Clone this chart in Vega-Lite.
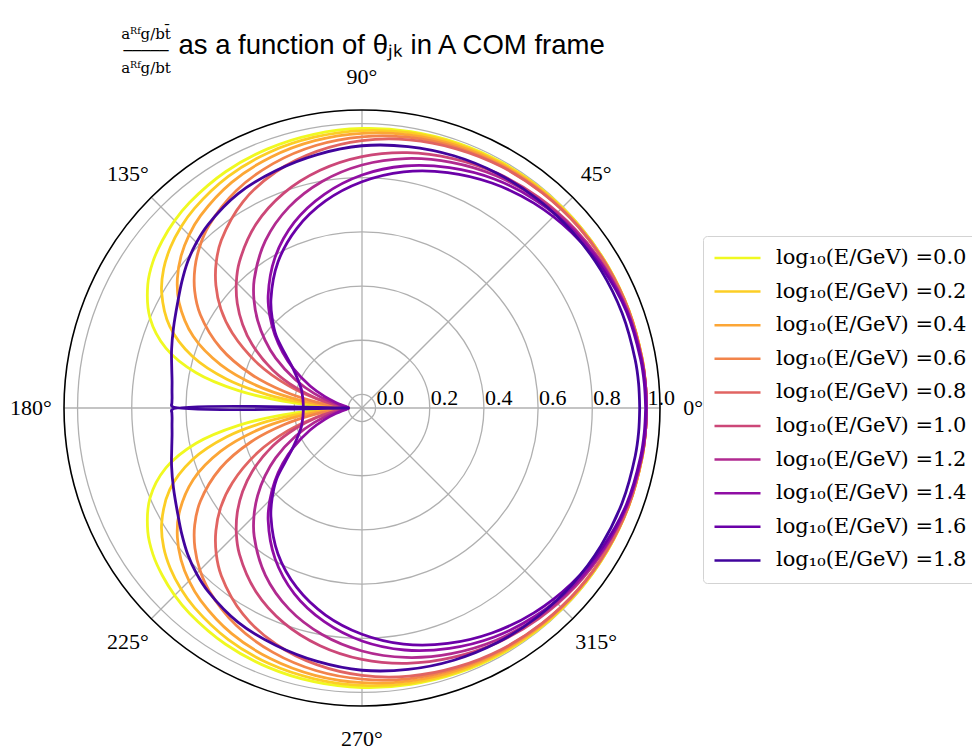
{
 "$schema": "https://vega.github.io/schema/vega-lite/v6.json",
 "width": 596, "height": 596,
 "autosize": {"type": "none"},
 "padding": {"left": 64, "top": 110, "right": 312, "bottom": 45},
 "background": "white",
 "config": {"view": {"stroke": null}, "axis": {"grid": false, "labels": false, "ticks": false, "domain": false}},
 "datasets": {
  "curves": [
   {"t":0,"E00":1,"E02":1,"E04":1,"E06":1,"E08":1,"E10":1,"E12":1,"E14":1,"E16":0.997,"E18":0.975},
   {"t":5,"E00":1,"E02":1,"E04":1,"E06":1,"E08":1,"E10":1,"E12":1,"E14":0.999,"E16":0.996,"E18":0.975},
   {"t":10,"E00":1,"E02":1,"E04":1,"E06":0.999,"E08":0.999,"E10":0.998,"E12":0.998,"E14":0.997,"E16":0.994,"E18":0.974},
   {"t":20,"E00":0.999,"E02":0.999,"E04":0.998,"E06":0.998,"E08":0.998,"E10":0.993,"E12":0.993,"E14":0.992,"E16":0.989,"E18":0.972},
   {"t":30,"E00":0.998,"E02":0.997,"E04":0.996,"E06":0.995,"E08":0.995,"E10":0.986,"E12":0.985,"E14":0.982,"E16":0.976,"E18":0.968},
   {"t":40,"E00":0.997,"E02":0.995,"E04":0.994,"E06":0.992,"E08":0.992,"E10":0.977,"E12":0.974,"E14":0.969,"E16":0.959,"E18":0.963},
   {"t":50,"E00":0.995,"E02":0.993,"E04":0.990,"E06":0.987,"E08":0.986,"E10":0.965,"E12":0.959,"E14":0.950,"E16":0.937,"E18":0.957},
   {"t":60,"E00":0.993,"E02":0.990,"E04":0.986,"E06":0.981,"E08":0.979,"E10":0.950,"E12":0.940,"E14":0.926,"E16":0.909,"E18":0.950},
   {"t":70,"E00":0.990,"E02":0.986,"E04":0.980,"E06":0.973,"E08":0.968,"E10":0.930,"E12":0.915,"E14":0.894,"E16":0.875,"E18":0.941},
   {"t":80,"E00":0.986,"E02":0.981,"E04":0.973,"E06":0.964,"E08":0.955,"E10":0.907,"E12":0.885,"E14":0.857,"E16":0.835,"E18":0.930},
   {"t":90,"E00":0.982,"E02":0.974,"E04":0.964,"E06":0.951,"E08":0.937,"E10":0.878,"E12":0.847,"E14":0.810,"E16":0.785,"E18":0.918},
   {"t":100,"E00":0.976,"E02":0.965,"E04":0.952,"E06":0.934,"E08":0.912,"E10":0.841,"E12":0.799,"E14":0.751,"E16":0.726,"E18":0.900},
   {"t":110,"E00":0.968,"E02":0.954,"E04":0.935,"E06":0.910,"E08":0.878,"E10":0.794,"E12":0.739,"E14":0.680,"E16":0.655,"E18":0.882},
   {"t":120,"E00":0.957,"E02":0.937,"E04":0.912,"E06":0.877,"E08":0.829,"E10":0.733,"E12":0.663,"E14":0.592,"E16":0.571,"E18":0.864},
   {"t":130,"E00":0.940,"E02":0.912,"E04":0.877,"E06":0.829,"E08":0.758,"E10":0.654,"E12":0.569,"E14":0.489,"E16":0.473,"E18":0.834},
   {"t":135,"E00":0.928,"E02":0.895,"E04":0.853,"E06":0.796,"E08":0.711,"E10":0.606,"E12":0.514,"E14":0.431,"E16":0.419,"E18":0.814},
   {"t":140,"E00":0.912,"E02":0.873,"E04":0.822,"E06":0.755,"E08":0.654,"E10":0.551,"E12":0.453,"E14":0.370,"E16":0.363,"E18":0.790},
   {"t":145,"E00":0.892,"E02":0.844,"E04":0.782,"E06":0.704,"E08":0.586,"E10":0.488,"E12":0.387,"E14":0.307,"E16":0.295,"E18":0.762},
   {"t":150,"E00":0.863,"E02":0.804,"E04":0.730,"E06":0.639,"E08":0.503,"E10":0.418,"E12":0.318,"E14":0.244,"E16":0.245,"E18":0.735},
   {"t":157,"E00":0.800,"E02":0.721,"E04":0.627,"E06":0.517,"E08":0.366,"E10":0.307,"E12":0.217,"E14":0.158,"E16":0.205,"E18":0.706},
   {"t":163,"E00":0.707,"E02":0.606,"E04":0.495,"E06":0.379,"E08":0.236,"E10":0.205,"E12":0.135,"E14":0.093,"E16":0.184,"E18":0.685},
   {"t":168,"E00":0.576,"E02":0.460,"E04":0.347,"E06":0.243,"E08":0.131,"E10":0.123,"E12":0.074,"E14":0.049,"E16":0.175,"E18":0.668},
   {"t":172,"E00":0.410,"E02":0.300,"E04":0.207,"E06":0.133,"E08":0.061,"E10":0.064,"E12":0.036,"E14":0.023,"E16":0.170,"E18":0.658},
   {"t":175,"E00":0.243,"E02":0.163,"E04":0.103,"E06":0.061,"E08":0.024,"E10":0.029,"E12":0.015,"E14":0.009,"E16":0.168,"E18":0.654},
   {"t":177,"E00":0.122,"E02":0.076,"E04":0.045,"E06":0.025,"E08":0.009,"E10":0.012,"E12":0.006,"E14":0.003,"E16":0.167,"E18":0.652},
   {"t":178.5,"E00":0.043,"E02":0.025,"E04":0.014,"E06":0.007,"E08":0.002,"E10":0.004,"E12":0.002,"E14":0.001,"E16":0.167,"E18":0.652},
   {"t":179.5,"E00":0.007,"E02":0.004,"E04":0.002,"E06":0.001,"E08":0,"E10":0.001,"E12":0,"E14":0,"E16":0.167,"E18":0.652},
   {"t":180,"E00":0,"E02":0,"E04":0,"E06":0,"E08":0,"E10":0,"E12":0,"E14":0,"E16":0.167,"E18":0},
   {"t":180.5,"E00":0.007,"E02":0.004,"E04":0.002,"E06":0.001,"E08":0,"E10":0.001,"E12":0,"E14":0,"E16":0.167,"E18":0.652},
   {"t":181.5,"E00":0.043,"E02":0.025,"E04":0.014,"E06":0.007,"E08":0.002,"E10":0.004,"E12":0.002,"E14":0.001,"E16":0.167,"E18":0.652},
   {"t":183,"E00":0.122,"E02":0.076,"E04":0.045,"E06":0.025,"E08":0.009,"E10":0.012,"E12":0.006,"E14":0.003,"E16":0.167,"E18":0.652},
   {"t":185,"E00":0.243,"E02":0.163,"E04":0.103,"E06":0.061,"E08":0.024,"E10":0.029,"E12":0.015,"E14":0.009,"E16":0.168,"E18":0.654},
   {"t":188,"E00":0.410,"E02":0.300,"E04":0.207,"E06":0.133,"E08":0.061,"E10":0.064,"E12":0.036,"E14":0.023,"E16":0.170,"E18":0.658},
   {"t":192,"E00":0.576,"E02":0.460,"E04":0.347,"E06":0.243,"E08":0.131,"E10":0.123,"E12":0.074,"E14":0.049,"E16":0.175,"E18":0.668},
   {"t":197,"E00":0.707,"E02":0.606,"E04":0.495,"E06":0.379,"E08":0.236,"E10":0.205,"E12":0.135,"E14":0.093,"E16":0.184,"E18":0.685},
   {"t":203,"E00":0.800,"E02":0.721,"E04":0.627,"E06":0.517,"E08":0.366,"E10":0.307,"E12":0.217,"E14":0.158,"E16":0.205,"E18":0.706},
   {"t":210,"E00":0.863,"E02":0.804,"E04":0.730,"E06":0.639,"E08":0.503,"E10":0.418,"E12":0.318,"E14":0.244,"E16":0.245,"E18":0.735},
   {"t":215,"E00":0.892,"E02":0.844,"E04":0.782,"E06":0.704,"E08":0.586,"E10":0.488,"E12":0.387,"E14":0.307,"E16":0.295,"E18":0.762},
   {"t":220,"E00":0.912,"E02":0.873,"E04":0.822,"E06":0.755,"E08":0.654,"E10":0.551,"E12":0.453,"E14":0.370,"E16":0.363,"E18":0.790},
   {"t":225,"E00":0.928,"E02":0.895,"E04":0.853,"E06":0.796,"E08":0.711,"E10":0.606,"E12":0.514,"E14":0.431,"E16":0.419,"E18":0.814},
   {"t":230,"E00":0.940,"E02":0.912,"E04":0.877,"E06":0.829,"E08":0.758,"E10":0.654,"E12":0.569,"E14":0.489,"E16":0.473,"E18":0.834},
   {"t":240,"E00":0.957,"E02":0.937,"E04":0.912,"E06":0.877,"E08":0.829,"E10":0.733,"E12":0.663,"E14":0.592,"E16":0.571,"E18":0.864},
   {"t":250,"E00":0.968,"E02":0.954,"E04":0.935,"E06":0.910,"E08":0.878,"E10":0.794,"E12":0.739,"E14":0.680,"E16":0.655,"E18":0.882},
   {"t":260,"E00":0.976,"E02":0.965,"E04":0.952,"E06":0.934,"E08":0.912,"E10":0.841,"E12":0.799,"E14":0.751,"E16":0.726,"E18":0.900},
   {"t":270,"E00":0.982,"E02":0.974,"E04":0.964,"E06":0.951,"E08":0.937,"E10":0.878,"E12":0.847,"E14":0.810,"E16":0.785,"E18":0.918},
   {"t":280,"E00":0.986,"E02":0.981,"E04":0.973,"E06":0.964,"E08":0.955,"E10":0.907,"E12":0.885,"E14":0.857,"E16":0.835,"E18":0.930},
   {"t":290,"E00":0.990,"E02":0.986,"E04":0.980,"E06":0.973,"E08":0.968,"E10":0.930,"E12":0.915,"E14":0.894,"E16":0.875,"E18":0.941},
   {"t":300,"E00":0.993,"E02":0.990,"E04":0.986,"E06":0.981,"E08":0.979,"E10":0.950,"E12":0.940,"E14":0.926,"E16":0.909,"E18":0.950},
   {"t":310,"E00":0.995,"E02":0.993,"E04":0.990,"E06":0.987,"E08":0.986,"E10":0.965,"E12":0.959,"E14":0.950,"E16":0.937,"E18":0.957},
   {"t":320,"E00":0.997,"E02":0.995,"E04":0.994,"E06":0.992,"E08":0.992,"E10":0.977,"E12":0.974,"E14":0.969,"E16":0.959,"E18":0.963},
   {"t":330,"E00":0.998,"E02":0.997,"E04":0.996,"E06":0.995,"E08":0.995,"E10":0.986,"E12":0.985,"E14":0.982,"E16":0.976,"E18":0.968},
   {"t":340,"E00":0.999,"E02":0.999,"E04":0.998,"E06":0.998,"E08":0.998,"E10":0.993,"E12":0.993,"E14":0.992,"E16":0.989,"E18":0.972},
   {"t":350,"E00":1,"E02":1,"E04":1,"E06":0.999,"E08":0.999,"E10":0.998,"E12":0.998,"E14":0.997,"E16":0.994,"E18":0.974},
   {"t":355,"E00":1,"E02":1,"E04":1,"E06":1,"E08":1,"E10":1,"E12":1,"E14":0.999,"E16":0.996,"E18":0.975},
   {"t":360,"E00":1,"E02":1,"E04":1,"E06":1,"E08":1,"E10":1,"E12":1,"E14":1,"E16":0.997,"E18":0.975}
  ],
  "rings": [{"r":0},{"r":0.2},{"r":0.4},{"r":0.6},{"r":0.8},{"r":1.0}],
  "rays": [
   {"t":0,"r":-0.05},{"t":0,"r":1.05},{"t":45,"r":-0.05},{"t":45,"r":1.05},
   {"t":90,"r":-0.05},{"t":90,"r":1.05},{"t":135,"r":-0.05},{"t":135,"r":1.05},
   {"t":180,"r":-0.05},{"t":180,"r":1.05},{"t":225,"r":-0.05},{"t":225,"r":1.05},
   {"t":270,"r":-0.05},{"t":270,"r":1.05},{"t":315,"r":-0.05},{"t":315,"r":1.05}
  ],
  "anglabels": [{"t":0,"label":"0°"},{"t":45,"label":"45°"},{"t":90,"label":"90°"},{"t":135,"label":"135°"},{"t":180,"label":"180°"},{"t":225,"label":"225°"},{"t":270,"label":"270°"},{"t":315,"label":"315°"}],
  "rlabels": [{"r":0,"label":"0.0"},{"r":0.2,"label":"0.2"},{"r":0.4,"label":"0.4"},{"r":0.6,"label":"0.6"},{"r":0.8,"label":"0.8"},{"r":1.0,"label":"1.0"}],
  "spine": [{"r":1.05}]
 },
 "layer": [
  {
   "data": {"name": "rings"},
   "transform": [{"calculate": "datum.r+0.05", "as": "R"}],
   "mark": {"type": "point", "shape": "circle", "filled": false, "color": "#b0b0b0", "strokeWidth": 1.3, "opacity": 1},
   "encoding": {
    "x": {"datum": 0, "type": "quantitative", "scale": {"domain": [-1.1, 1.1], "nice": false, "zero": false}},
    "y": {"datum": 0, "type": "quantitative", "scale": {"domain": [-1.1, 1.1], "nice": false, "zero": false}},
    "size": {"field": "R", "type": "quantitative", "scale": {"type": "pow", "exponent": 2, "domain": [0, 1.1], "range": [0, 355216], "zero": false, "nice": false}, "legend": null}
   }
  },
  {
   "data": {"name": "rays"},
   "transform": [
    {"calculate": "(datum.r+0.05)*cos(datum.t*PI/180)", "as": "px"},
    {"calculate": "(datum.r+0.05)*sin(datum.t*PI/180)", "as": "py"}
   ],
   "mark": {"type": "line", "color": "#b0b0b0", "strokeWidth": 1.3},
   "encoding": {
    "x": {"field": "px", "type": "quantitative", "scale": {"domain": [-1.1, 1.1], "nice": false, "zero": false}},
    "y": {"field": "py", "type": "quantitative", "scale": {"domain": [-1.1, 1.1], "nice": false, "zero": false}},
    "detail": {"field": "t", "type": "nominal"},
    "order": {"field": "r", "type": "quantitative"}
   }
  },
  {
   "data": {"name": "rlabels"},
   "transform": [{"calculate": "datum.r+0.05", "as": "px"}],
   "mark": {"type": "text", "align": "left", "baseline": "alphabetic", "dx": 1, "dy": -3, "font": "Liberation Serif", "fontSize": 22, "color": "black"},
   "encoding": {
    "x": {"field": "px", "type": "quantitative", "scale": {"domain": [-1.1, 1.1], "nice": false, "zero": false}},
    "y": {"datum": 0, "type": "quantitative", "scale": {"domain": [-1.1, 1.1], "nice": false, "zero": false}},
    "text": {"field": "label"}
   }
  },
  {
   "data": {"name": "curves"},
   "transform": [
    {"fold": ["E00","E02","E04","E06","E08","E10","E12","E14","E16","E18"], "as": ["E", "r"]},
    {"calculate": "(datum.r+0.05)*cos(datum.t*PI/180)", "as": "px"},
    {"calculate": "(datum.r+0.05)*sin(datum.t*PI/180)", "as": "py"}
   ],
   "mark": {"type": "line", "strokeWidth": 2.8, "interpolate": "catmull-rom"},
   "encoding": {
    "x": {"field": "px", "type": "quantitative", "scale": {"domain": [-1.1, 1.1], "nice": false, "zero": false},
     "axis": {"orient": "top", "domain": false, "ticks": false, "labels": false, "grid": false,
      "title": ["aᴿᶠg/bt̄", "─────", "aᴿᶠg/bt"], "titleX": 81.5, "titleY": -77, "titleAlign": "center", "titleBaseline": "middle", "titleAnchor": "start",
      "titleFont": "DejaVu Serif", "titleFontSize": 15, "titleFontWeight": "normal", "titleLineHeight": 17, "titleColor": "black"}},
    "y": {"field": "py", "type": "quantitative", "scale": {"domain": [-1.1, 1.1], "nice": false, "zero": false},
     "axis": {"orient": "left", "domain": false, "ticks": false, "labels": false, "grid": false,
      "title": "as a function of θⱼₖ in A COM frame", "titleAngle": 0, "titleX": 114, "titleY": -57, "titleAlign": "left", "titleBaseline": "alphabetic", "titleAnchor": "start",
      "titleFont": "Liberation Sans", "titleFontSize": 27.5, "titleFontWeight": "normal", "titleColor": "black"}},
    "order": {"field": "t", "type": "quantitative"},
    "color": {"field": "E", "type": "nominal",
     "scale": {"domain": ["E00","E02","E04","E06","E08","E10","E12","E14","E16","E18"],
      "range": ["#f0f921","#fcce25","#fca636","#f2844b","#e16462","#cc4778","#b12a90","#8f0da4","#6a00a8","#41049d"]},
     "legend": {"orient": "none", "legendX": 639, "legendY": 126, "title": null, "symbolType": "stroke", "symbolSize": 2116, "symbolStrokeWidth": 2.5,
      "labelFont": "DejaVu Serif", "labelFontSize": 21, "labelColor": "black", "labelOffset": 14, "labelLimit": 400,
      "labelExpr": "'log₁₀(E/GeV) =' + substring(datum.label,1,2) + '.' + substring(datum.label,2,3)",
      "clipHeight": 24, "rowPadding": 9.6, "padding": 10, "strokeColor": "#d3d3d3", "fillColor": "white", "cornerRadius": 4}}
   }
  },
  {
   "data": {"name": "spine"},
   "transform": [{"calculate": "datum.r+0.05", "as": "R"}],
   "mark": {"type": "point", "shape": "circle", "filled": false, "color": "black", "strokeWidth": 1.6, "opacity": 1},
   "encoding": {
    "x": {"datum": 0, "type": "quantitative", "scale": {"domain": [-1.1, 1.1], "nice": false, "zero": false}},
    "y": {"datum": 0, "type": "quantitative", "scale": {"domain": [-1.1, 1.1], "nice": false, "zero": false}},
    "size": {"field": "R", "type": "quantitative", "scale": {"type": "pow", "exponent": 2, "domain": [0, 1.1], "range": [0, 355216], "zero": false, "nice": false}, "legend": null}
   }
  },
  {
   "data": {"name": "anglabels"},
   "transform": [
    {"calculate": "1.222*cos(datum.t*PI/180)", "as": "px"},
    {"calculate": "1.222*sin(datum.t*PI/180)", "as": "py"}
   ],
   "mark": {"type": "text", "align": "center", "baseline": "middle", "font": "Liberation Serif", "fontSize": 22, "color": "black"},
   "encoding": {
    "x": {"field": "px", "type": "quantitative", "scale": {"domain": [-1.1, 1.1], "nice": false, "zero": false}},
    "y": {"field": "py", "type": "quantitative", "scale": {"domain": [-1.1, 1.1], "nice": false, "zero": false}},
    "text": {"field": "label"}
   }
  }
 ]
}
